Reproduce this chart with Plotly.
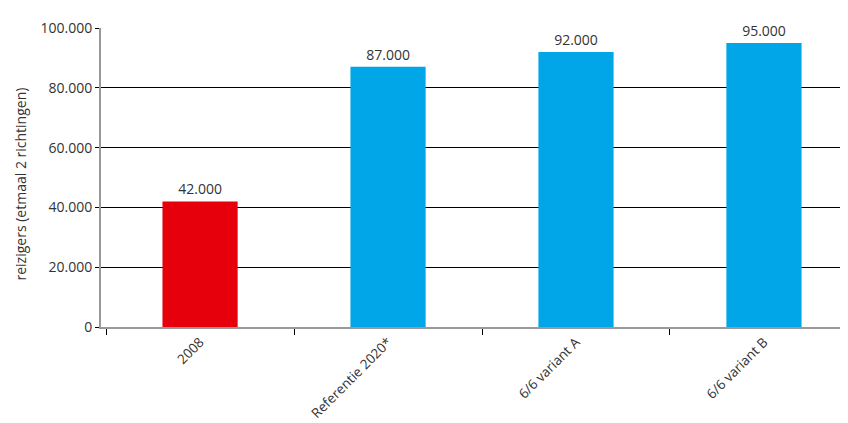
import plotly.graph_objects as go

categories = ["2008", "Referentie 2020*", "6/6 variant A", "6/6 variant B"]
values = [42000, 87000, 92000, 95000]
colors = ["#e5000c", "#00a6e8", "#00a6e8", "#00a6e8"]
ytick_vals = [0, 20000, 40000, 60000, 80000, 100000]
ytitle = "reizigers (etmaal 2 richtingen)"

fig = go.Figure(go.Bar(
    x=categories, y=values, marker=dict(color=colors, line=dict(width=0)),
    width=0.4, text=values, texttemplate="%{y:,d}", textposition="outside",
    textfont=dict(size=14, color="#333333"), cliponaxis=False,
))

fig.update_layout(
    width=840, height=415,
    margin=dict(l=93, r=0, t=20, b=96),
    plot_bgcolor="white", paper_bgcolor="white",
    separators=",.",
    font=dict(family="Open Sans", size=13, color="#333333"),
    showlegend=False,
    annotations=[dict(
        text=ytitle, textangle=-90, xref="paper", yref="paper",
        x=0, y=0.5, xanchor="center", yanchor="middle",
        xshift=-81, yshift=-7, showarrow=False,
        font=dict(size=14, color="#333333"),
    )],
)
fig.update_xaxes(
    range=[-0.527, 3.447],
    tickangle=-45, ticks="outside", tickson="boundaries", ticklen=6,
    tickcolor="black", showline=True, linecolor="#999999", linewidth=2,
    showgrid=False, tickfont=dict(size=13.5), automargin=False,
)
fig.update_yaxes(
    range=[0, 100000], tickvals=ytick_vals, tickformat=",d",
    ticks="outside", ticklen=4, tickcolor="black",
    showgrid=True, gridcolor="black", gridwidth=1,
    showline=True, linecolor="#999999", linewidth=2, zeroline=False,
    tickfont=dict(size=14), automargin=False,
)

fig.write_html("out.html")
